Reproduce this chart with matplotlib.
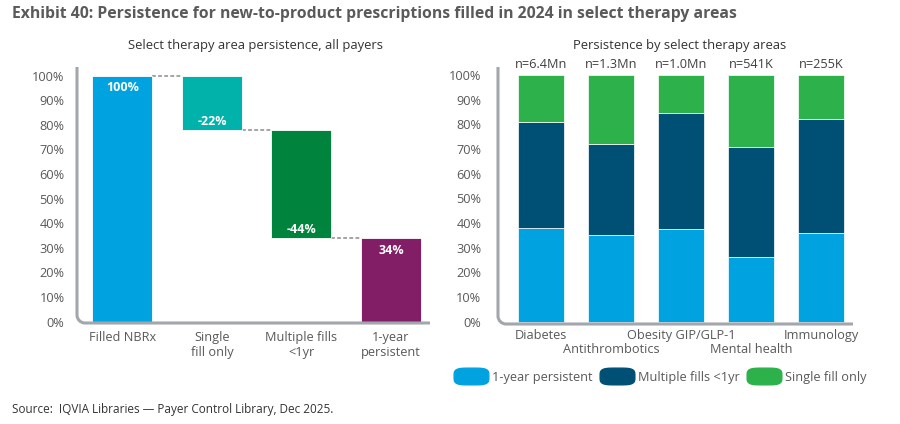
import matplotlib
matplotlib.use("Agg")
import matplotlib.pyplot as plt
import numpy as np
from matplotlib.path import Path
from matplotlib.lines import Line2D
import matplotlib.patches as mpatches

plt.rcParams['font.family'] = ['Open Sans', 'DejaVu Sans']

# ---- data ----
wf_categories = ["Filled NBRx", "Single\nfill only", "Multiple fills\n<1yr", "1-year\npersistent"]
wf_changes = [100, -22, -44, 34]          # first & last are totals
wf_labels = ["100%", "-22%", "-44%", "34%"]
wf_colors = ["#00a3e0", "#00b2a9", "#00843d", "#821e65"]

ta_categories = ["Diabetes", "Antithrombotics", "Obesity GIP/GLP-1", "Mental health", "Immunology"]
ta_n = ["n=6.4Mn", "n=1.3Mn", "n=1.0Mn", "n=541K", "n=255K"]
persistent_1yr = [38, 35, 37.5, 26, 36]
multiple_fills = [43, 37, 47, 45, 46]
single_fill = [19, 28, 15.5, 29, 18]
series_names = ["1-year persistent", "Multiple fills <1yr", "Single fill only"]
series_colors = ["#00a3e0", "#004f75", "#2db14b"]

yticks = list(range(0, 101, 10))
ytick_labels = [f"{v}%" for v in yticks]

AX_COL = "#a3a6ad"
TXT = "#595959"

fig = plt.figure(figsize=(9, 4.24), dpi=100)

def rounded_axes(ax, w_px, h_px, r=8):
    for s in ax.spines.values():
        s.set_visible(False)
    rx, ry = r / w_px, r / h_px
    k = 0.45
    verts = [(0, 1), (0, ry), (0, ry * k), (rx * k, 0), (rx, 0), (1, 0)]
    codes = [Path.MOVETO, Path.LINETO, Path.CURVE4, Path.CURVE4, Path.CURVE4, Path.LINETO]
    patch = mpatches.PathPatch(Path(verts, codes), transform=ax.transAxes, fill=False,
                               edgecolor=AX_COL, lw=2.2, clip_on=False, capstyle='butt', zorder=5)
    ax.add_patch(patch)

# ---- left: waterfall ----
axL = fig.add_axes([77 / 900, 1 - 323 / 424, 353 / 900, 256 / 424])
x = np.arange(len(wf_categories))
bottoms, heights = [], []
level = 0
for i, c in enumerate(wf_changes):
    if i == 0 or i == len(wf_changes) - 1:
        bottoms.append(0); heights.append(c); level = c
    else:
        bottoms.append(level + c); heights.append(-c); level = level + c
bw = 0.67
axL.bar(x, heights, bottom=bottoms, width=bw, color=wf_colors, edgecolor="white", linewidth=0.6, zorder=2)
# connectors
for i in range(len(x) - 1):
    if i == 0:
        lvl = heights[0]
    else:
        lvl = bottoms[i]
    axL.plot([x[i] + bw / 2, x[i + 1] - bw / 2], [lvl, lvl], ls=(0, (2.5, 1.5)), color="#8c8c8c", lw=1.1, zorder=1)
# labels
for i in range(len(x)):
    if wf_changes[i] >= 0:
        yv = bottoms[i] + heights[i] - 5
    else:
        yv = bottoms[i] + 3.5
    axL.text(x[i], yv, wf_labels[i], ha="center", va="center", color="white",
             fontsize=9, fontweight="bold", zorder=3)
axL.set_xlim(-0.508, 3.436)
axL.set_ylim(-0.6, 103.5)
axL.set_yticks(yticks)
axL.set_yticklabels(ytick_labels)
axL.set_xticks(x)
axL.set_xticklabels(wf_categories, linespacing=1.2)
axL.tick_params(axis="both", length=0, labelsize=9.2, labelcolor=TXT)
axL.tick_params(axis="y", pad=9)
axL.tick_params(axis="x", pad=6)
rounded_axes(axL, 353, 256)

# ---- right: stacked bars ----
axR = fig.add_axes([498 / 900, 1 - 324 / 424, 355 / 900, 257 / 424])
xr = np.arange(len(ta_categories))
bw2 = 0.66
b = np.zeros(len(xr))
for vals, col in zip([persistent_1yr, multiple_fills, single_fill], series_colors):
    axR.bar(xr, vals, bottom=b, width=bw2, color=col, edgecolor="white", linewidth=0.5, zorder=2)
    b = b + np.array(vals)
for i in range(len(xr)):
    axR.text(xr[i], b[i] + 1.5, ta_n[i], ha="center", va="bottom", fontsize=9.2, color="#404040")
axR.set_xlim(-0.614, 4.457)
axR.set_ylim(-1.0, 103.3)
axR.set_yticks(yticks)
axR.set_yticklabels(ytick_labels)
axR.set_xticks(xr)
axR.set_xticklabels(ta_categories)
axR.tick_params(axis="both", length=0, labelsize=9.2, labelcolor=TXT)
axR.tick_params(axis="y", pad=12)
axR.tick_params(axis="x", pad=3.5)
for i, t in enumerate(axR.xaxis.get_major_ticks()):
    if i % 2 == 1:
        t.set_pad(13.5)
rounded_axes(axR, 355, 257)

# ---- legend ----
theta = np.linspace(0, 2 * np.pi, 80)
n = 4
cx = np.sign(np.cos(theta)) * np.abs(np.cos(theta)) ** (2 / n)
cy = np.sign(np.sin(theta)) * np.abs(np.sin(theta)) ** (2 / n) * 0.48
pill = Path(np.column_stack([cx, cy]), closed=True)
handles = [Line2D([], [], ls="", marker=pill, markersize=25, markerfacecolor=c, markeredgecolor=c)
           for c in series_colors]
fig.legend(handles, series_names, loc="center", bbox_to_anchor=(660 / 900, 1 - 377 / 424),
           ncol=3, frameon=False, fontsize=9.2, labelcolor=TXT, handlelength=2.8,
           handletextpad=0.25, columnspacing=0.5)

# ---- titles ----
fig.text(12 / 900, 1 - 14 / 424, "Exhibit 40: Persistence for new-to-product prescriptions filled in 2024 in select therapy areas",
         ha="left", va="center", fontsize=11.3, fontweight="bold", color="#5a5a5a")
fig.text(255 / 900, 1 - 46 / 424, "Select therapy area persistence, all payers",
         ha="center", va="center", fontsize=9.4, color="#333333")
fig.text(680 / 900, 1 - 46 / 424, "Persistence by select therapy areas",
         ha="center", va="center", fontsize=9.4, color="#333333")
fig.text(12 / 900, 1 - 410 / 424, "Source:  IQVIA Libraries \u2014 Payer Control Library, Dec 2025.",
         ha="left", va="center", fontsize=8.5, color="#333333")

fig.savefig("out.png", dpi=100)
